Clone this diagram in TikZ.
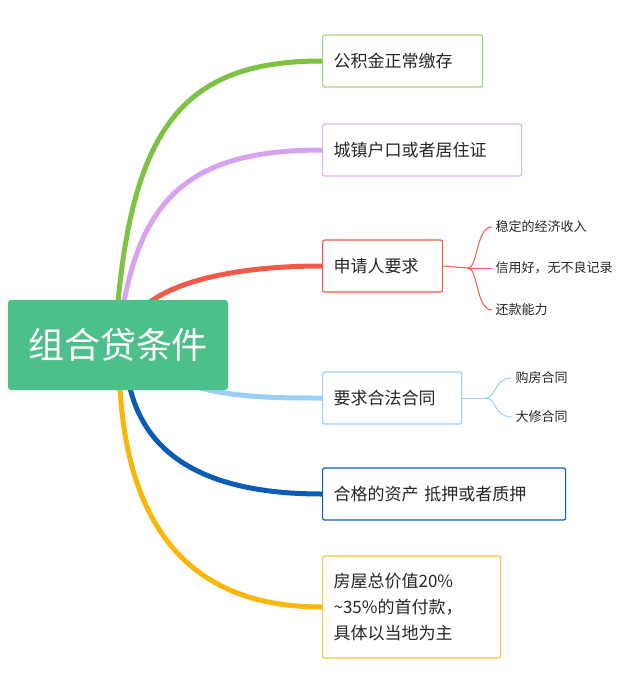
\documentclass[tikz,border=0pt]{standalone}
\usepackage{fontspec}
\setmainfont{Noto Sans CJK SC}
\begin{document}
\begin{tikzpicture}[x=1pt,y=-1pt,
  box/.style={draw=#1,line width=1.2pt,rounded corners=2pt,fill=white,anchor=west,minimum height=52pt,inner xsep=11pt,font=\fontsize{17}{21}\selectfont,text=black!85,text width=0pt},
  br/.style={line width=5pt,#1},
  sub/.style={font=\fontsize{13}{16}\selectfont,anchor=west,text=black!85},
  thin/.style={draw=#1,line width=1pt}]
\useasboundingbox (0,0) rectangle (640,686);
\definecolor{cg}{HTML}{7DC243}\definecolor{cp}{HTML}{D7A2F0}\definecolor{cr}{HTML}{F05A46}
\definecolor{cl}{HTML}{9BCFF8}\definecolor{cb}{HTML}{0B5CB5}\definecolor{cy}{HTML}{F8B80A}
\definecolor{cm}{HTML}{4CBF8A}
\coordinate (s1) at (118,302);\coordinate (s2) at (124,302);\coordinate (s3) at (150,302);
\coordinate (s4) at (200,388);\coordinate (s5) at (130,388);\coordinate (s6) at (120,388);
\node[box=cg!70,minimum width=160pt,text width=138pt] (b1) at (322,61) {公积金正常缴存};
\node[box=cp!80,minimum width=199pt,text width=177pt] (b2) at (322,150) {城镇户口或者居住证};
\node[box=cr,minimum width=120pt,text width=98pt] (b3) at (322,266) {申请人要求};
\node[box=cl,minimum width=139pt,text width=117pt] (b4) at (322,398) {要求合法合同};
\node[box=cb,minimum width=243pt,text width=221pt] (b5) at (322,494) {合格的资产 抵押或者质押};
\node[box=cy!80,minimum width=178pt,text width=156pt,minimum height=102pt,align=left,font=\fontsize{17}{26}\selectfont] (b6) at (322,607) {房屋总价值20\%\\\textasciitilde35\%的首付款，\\具体以当地为主};
\draw[br=cg] (s1) .. controls (135,120) and (190,61) .. (b1.west);
\draw[br=cp] (s2) .. controls (145,190) and (200,150) .. (b2.west);
\draw[br=cr] (s3) .. controls (180,280) and (240,266) .. (b3.west);
\draw[br=cl] (s4) .. controls (240,398) and (280,398) .. (b4.west);
\draw[br=cb] (s5) .. controls (150,470) and (230,494) .. (b5.west);
\draw[br=cy] (s6) .. controls (130,560) and (220,607) .. (b6.west);
\node[fill=cm,rounded corners=3pt,minimum width=220pt,minimum height=90pt,text=white,font=\fontsize{36}{42}\selectfont] (c) at (118,345) {组合贷条件};
\node[sub] (t1) at (492,227) {稳定的经济收入};
\node[sub] (t2) at (492,268) {信用好，无不良记录};
\node[sub] (t3) at (492,310) {还款能力};
\coordinate (j3) at (468,268);
\draw[thin=cr] (b3.east) -- (j3);
\draw[thin=cr] (j3) .. controls (478,268) and (476,227) .. (t1.west);
\draw[thin=cr] (j3) -- (t2.west);
\draw[thin=cr] (j3) .. controls (478,268) and (476,310) .. (t3.west);
\node[sub] (u1) at (512,378) {购房合同};
\node[sub] (u2) at (512,417) {大修合同};
\coordinate (j4) at (486,398);
\draw[thin=cl] (b4.east) -- (j4);
\draw[thin=cl] (j4) .. controls (496,398) and (494,378) .. (u1.west);
\draw[thin=cl] (j4) .. controls (496,398) and (494,417) .. (u2.west);
\end{tikzpicture}
\end{document}
